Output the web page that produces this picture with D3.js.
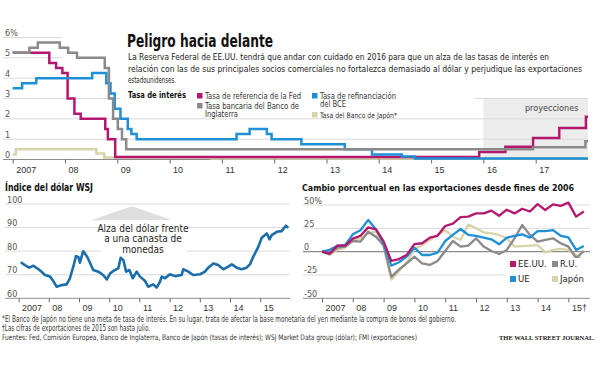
<!DOCTYPE html>
<html>
<head>
<meta charset="utf-8">
<script src="https://cdnjs.cloudflare.com/ajax/libs/d3/7.8.5/d3.min.js"></script>
<style>
  body { margin: 0; background: #fff; }
  svg { display: block; font-family: "Liberation Sans Narrow", "DejaVu Sans Condensed", Roboto, sans-serif; }
</style>
</head>
<body>
<svg id="chart" width="600" height="370"></svg>
<script>
'use strict';

// --- tasas de interés (fecha de cambio, nivel) ---
const fedRate = [[2007.00, 5.25], [2007.70, 4.75], [2007.83, 4.5], [2007.95, 4.25], [2008.05, 3.0],
  [2008.18, 2.25], [2008.30, 2.0], [2008.77, 1.5], [2008.82, 1.0], [2008.96, 0.125],
  [2015.92, 0.375], [2016.42, 0.625], [2016.95, 1.06], [2017.45, 1.55], [2017.96, 2.1]];
const ecbRate = [[2007.00, 3.5], [2007.18, 3.75], [2007.45, 4.0], [2008.52, 4.25], [2008.79, 3.75],
  [2008.87, 3.25], [2008.95, 2.5], [2009.06, 2.0], [2009.20, 1.5], [2009.27, 1.25], [2009.37, 1.0],
  [2011.28, 1.25], [2011.53, 1.5], [2011.86, 1.25], [2011.95, 1.0], [2012.52, 0.75], [2013.35, 0.5],
  [2013.87, 0.25], [2014.44, 0.15], [2014.69, 0.05]];
const boeRate = [[2007.00, 5.25], [2007.32, 5.5], [2007.48, 5.75], [2007.90, 5.5], [2008.06, 5.25],
  [2008.23, 5.0], [2008.76, 4.5], [2008.84, 3.0], [2008.92, 2.0], [2009.01, 1.5], [2009.09, 1.0],
  [2009.17, 0.5], [2016.95, 0.6], [2017.95, 0.9]];
const bojRate = [[2007.00, 0.25], [2007.06, 0.5], [2008.60, 0.3], [2008.75, 0.1], [2010.80, 0.05]];
const rateTicks = [0, 1, 2, 3, 4, 5, 6];
const rateYears = [2007, 2008, 2009, 2010, 2011, 2012, 2013, 2014, 2015, 2016, 2017];

// --- índice del dólar WSJ ---
const dollarDates = [2007.07, 2007.21, 2007.35, 2007.49, 2007.65, 2007.76, 2007.87, 2008.04, 2008.15,
  2008.26, 2008.43, 2008.59, 2008.70, 2008.81, 2008.90, 2008.98, 2009.03, 2009.14, 2009.27, 2009.36,
  2009.47, 2009.64, 2009.80, 2009.92, 2010.03, 2010.19, 2010.30, 2010.38, 2010.47, 2010.56, 2010.67,
  2010.78, 2010.91, 2011.02, 2011.19, 2011.29, 2011.46, 2011.57, 2011.68, 2011.74, 2011.85, 2012.01,
  2012.18, 2012.40, 2012.45, 2012.62, 2012.78, 2013.01, 2013.17, 2013.28, 2013.45, 2013.61, 2013.78,
  2013.94, 2014.06, 2014.22, 2014.39, 2014.55, 2014.66, 2014.77, 2014.94, 2015.05, 2015.22, 2015.31,
  2015.38, 2015.55, 2015.71, 2015.85, 2015.93];
const dollarIndex = [75.3, 74.1, 73.0, 73.8, 72.4, 71.3, 69.9, 69.2, 67.3,
  64.9, 65.6, 65.9, 68.5, 73.4, 77.9, 77.5, 75.1, 80.0, 77.6, 75.2,
  72.0, 71.3, 69.9, 68.0, 70.6, 72.0, 72.7, 77.2, 76.2, 71.3, 72.0,
  68.5, 71.3, 69.2, 67.3, 64.9, 65.9, 64.5, 67.0, 69.2, 68.5, 70.2,
  69.4, 69.9, 72.3, 71.3, 69.9, 70.2, 71.3, 73.0, 74.8, 74.1, 72.3,
  73.4, 74.4, 73.0, 72.3, 73.0, 74.4, 77.6, 81.9, 85.7, 87.5, 85.0,
  86.8, 88.2, 88.5, 90.8, 89.9];
const dollarTicks = [60, 70, 80, 90, 100];

// --- exportaciones, % desde fines de 2006 (trimestral) ---
const exportEEUU = [0, -2, 6.4, 6.4, 14, 17, 26, 24, 11, -10, -8, -3.5, 8, 9, 15, 17, 27.5, 30, 37,
  37.5, 41, 41, 44, 38.5, 45, 41, 46, 43, 51, 44.6, 50.7, 49, 52.5, 37.5, 43];
const exportUE = [0, 2, 6.4, 7, 18.6, 23, 34, 24, 9, -15, -11.4, -5.4, 4.3, -3.6, -3.6, -1, 11.4, 17.9,
  24.3, 17.9, 16.8, 15, 13.2, 7.9, 15, 16.8, 18.6, 15, 22, 22, 23, 17, 15.4, 1.8, 6];
const exportRU = [0, -3, 4.3, 5.4, 11.4, 10.7, 21.4, 16, 7, -27, -19, -12.5, -5.4, -12.5, -14.3, -10,
  0.7, 11.4, 5.4, 6.4, 14.3, 5.4, 0.7, -2.5, 1.8, 14.3, 28.6, 17.9, 10.7, 12.5, 14.3, 9, 5.4, -7, 0.7];
const exportJapon = [0, -3, 2, 4.3, 12.5, 14.3, 19.6, 21.4, 5.4, -30, -21, -11.4, 2.9, 7, 12.5, 17.9,
  23, 16, 12.5, 29, 25, 20.7, 19.6, 17.9, 14.3, 5.4, 6, 6.4, 7, -0.7, 1.8, 2.9, 1.8, -3.6, -9];
const exportTicks = [-50, -25, 0, 25, 50];
const bottomYears = [2007, 2008, 2009, 2010, 2011, 2012, 2013, 2014, 2015];

const C = {
  fed: '#b3176e', ecb: '#1f8fd6', boe: '#8a8a8a', boj: '#d6d4a8',
  dollar: '#1c6eab', grid: '#dadada', axis: '#8c8c8c', text: '#333'
};

const svg = d3.select('#chart');
svg.append('rect').attr('width', 600).attr('height', 370).attr('fill', '#fff');

// ajusta el texto al ancho w; si su ancho natural pasa de maxNat, reduce la fuente
function fit(sel, w, maxNat) {
  sel.each(function () {
    const t = d3.select(this);
    const nat = this.getComputedTextLength();
    if (maxNat && nat > maxNat) {
      t.attr('font-size', (+t.attr('font-size') * maxNat / nat).toFixed(2));
    }
    t.attr('textLength', w).attr('lengthAdjust', 'spacingAndGlyphs');
  });
}
function yearLabel(d) {
  return d === 2007 ? '2007' : String(d).slice(2);
}

// ================= tasas de interés =================
const xTop = d3.scaleLinear().domain([2007, 2018]).range([12.7, 588]);
const yTop = d3.scaleLinear().domain([0, 6]).range([159.5, 37.5]);
const rateG = svg.append('g');

rateG.append('rect')
  .attr('x', xTop(2016)).attr('y', yTop(3))
  .attr('width', xTop(2018) - xTop(2016)).attr('height', yTop(0) - yTop(3))
  .attr('fill', '#ececec');

rateG.selectAll('line.grid').data(rateTicks).join('line')
  .attr('class', 'grid')
  .attr('x1', 3).attr('x2', 588)
  .attr('y1', d => yTop(d)).attr('y2', d => yTop(d))
  .attr('stroke', d => d === 0 ? C.axis : C.grid)
  .attr('stroke-width', 1);

rateG.selectAll('text.ylab').data(rateTicks).join('text')
  .attr('class', 'ylab')
  .attr('x', 5).attr('y', d => yTop(d) - 1.5)
  .attr('font-size', 9).attr('fill', '#555')
  .text(d => d === 6 ? '6%' : d);

// fondo blanco del título y la leyenda
rateG.append('rect').attr('x', 62).attr('y', 26).attr('width', 530).attr('height', yTop(3) - 27).attr('fill', '#fff');
rateG.append('rect').attr('x', 120).attr('y', yTop(3) - 2).attr('width', 355).attr('height', 19).attr('fill', '#fff');

rateG.append('text').attr('x', xTop(2017) + 16).attr('y', 111)
  .attr('font-size', 9).attr('fill', '#444').attr('text-anchor', 'middle')
  .text('proyecciones');

const stepLine = d3.line().curve(d3.curveStepAfter).x(d => xTop(d[0])).y(d => yTop(d[1]));
const withEnd = s => s.concat([[2018, s[s.length - 1][1]]]);
[[bojRate, C.boj], [fedRate, C.fed], [ecbRate, C.ecb], [boeRate, C.boe]].forEach(([s, col]) => {
  rateG.append('path').datum(withEnd(s))
    .attr('d', stepLine).attr('fill', 'none')
    .attr('stroke', col).attr('stroke-width', 2.5);
});

const axTop = rateG.append('g').attr('transform', `translate(0,${yTop(0)})`)
  .call(d3.axisBottom(xTop).tickValues(rateYears).tickSize(4).tickFormat(yearLabel));
axTop.select('.domain').remove();
axTop.selectAll('line').attr('stroke', '#666');
axTop.selectAll('text').attr('text-anchor', 'start').attr('x', 3).attr('y', 7)
  .attr('font-family', null).attr('font-size', 9).attr('fill', C.text);

// título y texto
svg.append('text').attr('x', 127).attr('y', 47).attr('font-size', 18).attr('font-weight', 'bold')
  .attr('fill', '#111').text('Peligro hacia delante').call(fit, 146, 200);
const intro = [
  ['La Reserva Federal de EE.UU. tendrá que andar con cuidado en 2016 para que un alza de las tasas de interés en', 421],
  ['relación con las de sus principales socios comerciales no fortalezca demasiado al dólar y perjudique las exportaciones', 454],
  ['estadounidenses.', 48]
];
svg.selectAll('text.intro').data(intro).join('text')
  .attr('class', 'intro').attr('x', 128).attr('y', (d, i) => 60 + i * 11.5)
  .attr('font-size', 8.7).attr('fill', '#222')
  .text(d => d[0])
  .attr('textLength', d => d[1]).attr('lengthAdjust', 'spacingAndGlyphs');

svg.append('text').attr('x', 128).attr('y', 98).attr('font-size', 10).attr('font-weight', 'bold')
  .attr('fill', '#111').text('Tasa de interés').call(fit, 58, 64);

const legendTop = [
  { col: C.fed, x: 197, y: 93, lines: ['Tasa de referencia de la Fed'], w: [96] },
  { col: C.ecb, x: 312, y: 93, lines: ['Tasa de refinanciación', 'del BCE'], w: [76, 26] },
  { col: C.boe, x: 197, y: 103, lines: ['Tasa bancaria del Banco de', 'Inglaterra'], w: [94, 33] },
  { col: C.boj, x: 312, y: 112, lines: ['Tasa del Banco de Japón*'], w: [77] }
];
legendTop.forEach(item => {
  svg.append('rect').attr('x', item.x).attr('y', item.y).attr('width', 5.5).attr('height', 5.5).attr('fill', item.col);
  item.lines.forEach((t, i) => {
    svg.append('text').attr('x', item.x + 8).attr('y', item.y + 5.5 + i * 8.7)
      .attr('font-size', 9).attr('fill', '#333').text(t).call(fit, item.w[i], item.w[i] + 8);
  });
});

// ================= índice del dólar =================
const xL = d3.scaleLinear().domain([2007, 2016]).range([18.6, 290.4]);
const yL = d3.scaleLinear().domain([60, 100]).range([298.3, 204]);
const dollarG = svg.append('g');

dollarG.append('text').attr('x', 5).attr('y', 191).attr('font-size', 11.5).attr('font-weight', 'bold')
  .attr('fill', '#111').text('Índice del dólar WSJ').call(fit, 88, 100);

dollarG.selectAll('line.grid').data(dollarTicks).join('line')
  .attr('class', 'grid').attr('x1', 5).attr('x2', 290)
  .attr('y1', d => yL(d)).attr('y2', d => yL(d))
  .attr('stroke', d => d === 60 ? C.axis : C.grid);
dollarG.selectAll('text.ylab').data(dollarTicks).join('text')
  .attr('class', 'ylab').attr('x', 7).attr('y', d => yL(d) - 1.5)
  .attr('font-size', 9).attr('fill', '#555').text(d => d);

// flecha y nota
dollarG.append('path')
  .attr('d', `M${xL(2010.75)},${yL(99)} L${xL(2012.13)},${yL(93)} L${xL(2009.37)},${yL(93)} Z`)
  .attr('fill', '#dedede');
dollarG.append('rect').attr('x', 101).attr('y', 220).attr('width', 86).attr('height', 35).attr('fill', '#fff');
['Alza del dólar frente', 'a una canasta de', 'monedas'].forEach((t, i) => {
  dollarG.append('text').attr('x', 143).attr('y', 231.5 + i * 10.5).attr('text-anchor', 'middle')
    .attr('font-size', 10).attr('fill', '#222').text(t);
});

dollarG.append('path').datum(dollarDates.map((d, i) => [d, dollarIndex[i]]))
  .attr('d', d3.line().x(d => xL(d[0])).y(d => yL(d[1])))
  .attr('fill', 'none').attr('stroke', C.dollar).attr('stroke-width', 2.6)
  .attr('stroke-linejoin', 'round');

const axL = dollarG.append('g').attr('transform', `translate(0,${yL(60)})`)
  .call(d3.axisBottom(xL).tickValues(bottomYears).tickSize(4).tickFormat(yearLabel));
axL.select('.domain').remove();
axL.selectAll('line').attr('stroke', '#666');
axL.selectAll('text').attr('text-anchor', 'start').attr('x', 3).attr('y', 6)
  .attr('font-family', null).attr('font-size', 9).attr('fill', C.text);

// ================= exportaciones =================
const xR = d3.scaleLinear().domain([2007, 2016]).range([322, 599.2]);
const yR = d3.scaleLinear().domain([-50, 50]).range([298.3, 205]);
const exportG = svg.append('g');

exportG.append('text').attr('x', 302).attr('y', 191).attr('font-size', 11.5).attr('font-weight', 'bold')
  .attr('fill', '#111').text('Cambio porcentual en las exportaciones desde fines de 2006').call(fit, 272, 292);

exportG.selectAll('line.grid').data(exportTicks).join('line')
  .attr('class', 'grid').attr('x1', 303).attr('x2', 590)
  .attr('y1', d => yR(d)).attr('y2', d => yR(d))
  .attr('stroke', d => d === 0 || d === -50 ? C.axis : C.grid)
  .attr('stroke-width', d => d === 0 ? 1.3 : 1);
exportG.selectAll('text.ylab').data(exportTicks).join('text')
  .attr('class', 'ylab').attr('x', 304).attr('y', d => yR(d) - 1.5)
  .attr('font-size', 9).attr('fill', '#555').text(d => d === 50 ? '50%' : d);

const quarterLine = d3.line().x((d, i) => xR(2007 + i / 4)).y(d => yR(d));
[[exportJapon, C.boj], [exportRU, C.boe], [exportUE, C.ecb], [exportEEUU, C.fed]].forEach(([s, col]) => {
  exportG.append('path').datum(s).attr('d', quarterLine)
    .attr('fill', 'none').attr('stroke', col).attr('stroke-width', 2.3)
    .attr('stroke-linejoin', 'round');
});

exportG.append('rect').attr('x', 506).attr('y', 258).attr('width', 84).attr('height', 27).attr('fill', '#fff');
const legendR = [
  { t: 'EE.UU.', col: C.fed, x: 510, y: 261 }, { t: 'R.U.', col: C.boe, x: 552, y: 261 },
  { t: 'UE', col: C.ecb, x: 510, y: 276 }, { t: 'Japón', col: C.boj, x: 552, y: 276 }
];
legendR.forEach(d => {
  exportG.append('rect').attr('x', d.x).attr('y', d.y).attr('width', 6).attr('height', 6).attr('fill', d.col);
  exportG.append('text').attr('x', d.x + 8).attr('y', d.y + 6).attr('font-size', 9.5).attr('fill', '#222').text(d.t);
});

const axR = exportG.append('g').attr('transform', `translate(0,${yR(-50)})`)
  .call(d3.axisBottom(xR).tickValues(bottomYears).tickSize(4)
    .tickFormat(d => d === 2015 ? '15†' : yearLabel(d)));
axR.select('.domain').remove();
axR.selectAll('line').attr('stroke', '#666');
axR.selectAll('text').attr('text-anchor', 'start').attr('x', 3).attr('y', 6)
  .attr('font-family', null).attr('font-size', 9).attr('fill', C.text);

// ================= notas =================
const notes = [
  ['*El Banco de Japón no tiene una meta de tasa de interés. En su lugar, trata de afectar la base monetaria del yen mediante la compra de bonos del gobierno.', 454, 590],
  ['†Las cifras de exportaciones de 2015 son hasta julio.', 148, 200],
  ['Fuentes: Fed, Comisión Europea, Banco de Inglaterra, Banco de Japón (tasas de interés); WSJ Market Data group (dólar); FMI (exportaciones)', 415, 480]
];
svg.selectAll('text.note').data(notes).join('text')
  .attr('class', 'note').attr('x', 2).attr('y', (d, i) => 321.5 + i * 9.3)
  .attr('font-size', 8).attr('fill', '#333')
  .text(d => d[0])
  .each(function (d) { d3.select(this).call(fit, d[1], d[2]); });
svg.append('text').attr('x', 595).attr('y', 340).attr('text-anchor', 'end')
  .attr('font-family', '"Liberation Serif", "DejaVu Serif", serif').attr('font-weight', 'bold')
  .attr('font-size', 8.5).attr('fill', '#222').text('THE WALL STREET JOURNAL.').call(fit, 96, 96);
</script>
</body>
</html>
